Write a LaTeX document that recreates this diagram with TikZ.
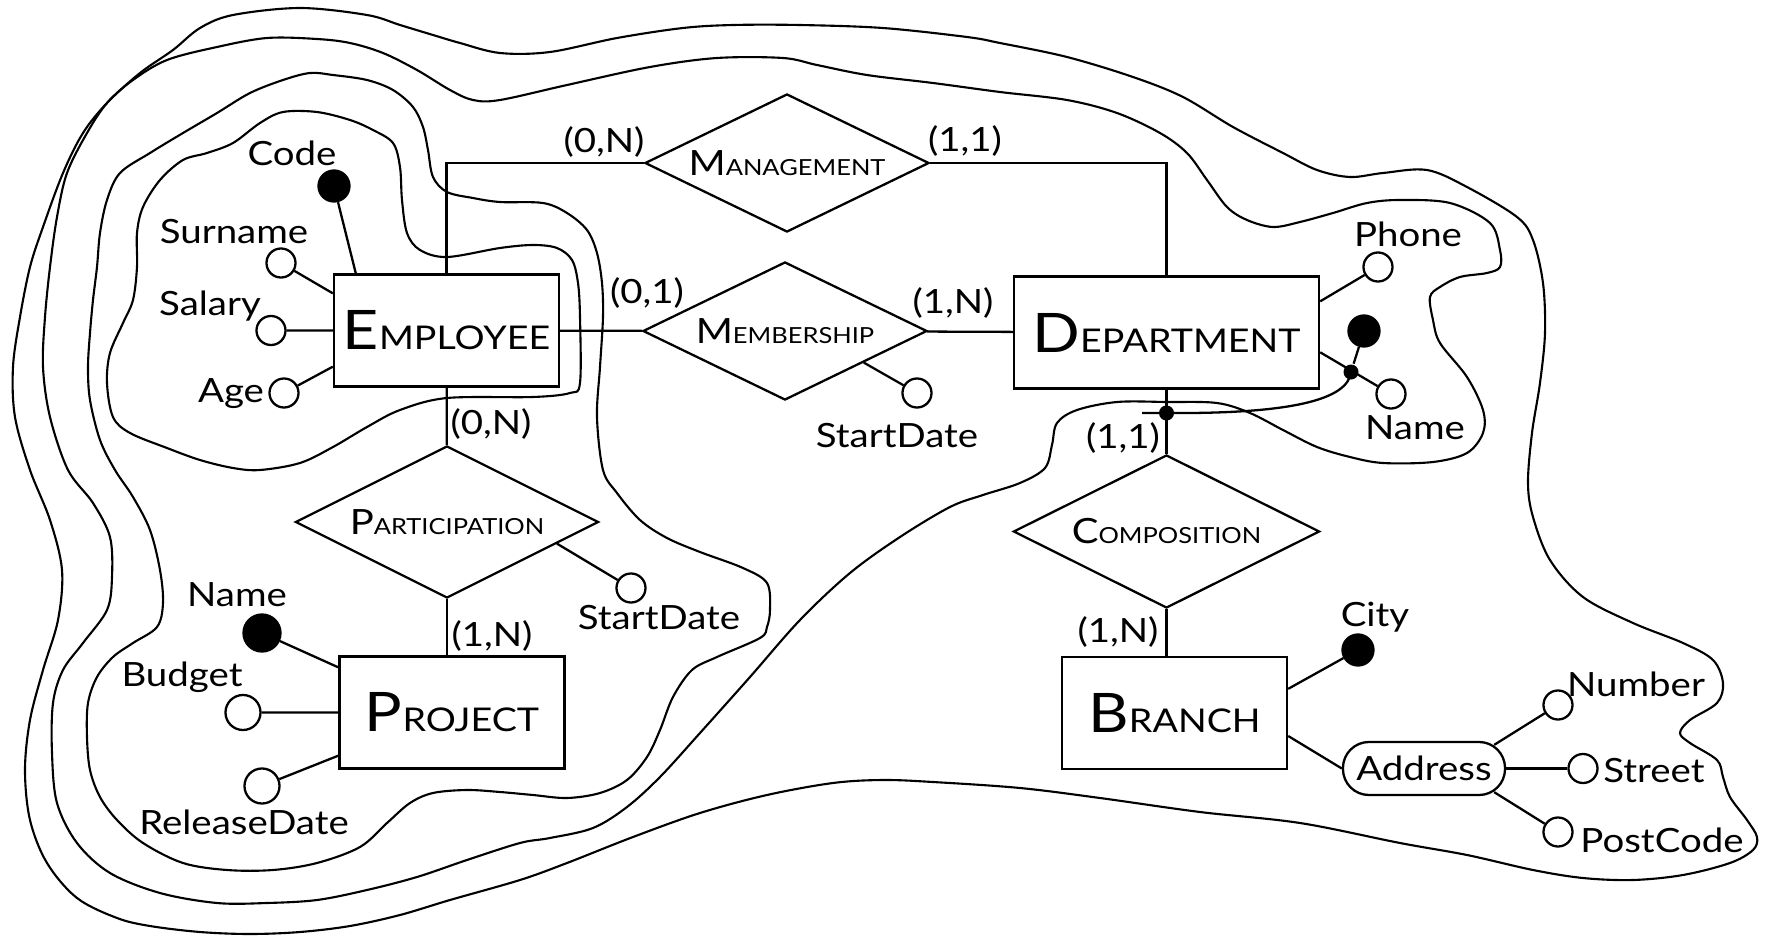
\documentclass[tikz,border=0pt]{standalone}
\usepackage{fontspec}
\setmainfont{Lato}[FakeStretch=1.15]
\usetikzlibrary{shapes.geometric,calc}

\newcommand{\entname}[2]{{\fontsize{15.5}{16}\selectfont #1}{\fontsize{9.3}{10}\selectfont #2}}
\newcommand{\relname}[2]{{\fontsize{9.9}{10}\selectfont #1}{\fontsize{6.3}{7}\selectfont #2}}

\begin{document}
\begin{tikzpicture}[x=0.01cm,y=-0.01cm,line width=0.65pt,
font=\fontsize{9.5}{11}\selectfont]
\tikzstyle{entity}=[draw,rectangle,inner sep=0pt,minimum width=2.25cm,minimum height=1.12cm]
\tikzstyle{relation}=[draw,diamond,aspect=2,inner sep=0pt,minimum width=2.84cm,minimum height=1.38cm]
\tikzstyle{attr}=[draw,circle,fill=white,inner sep=0pt,minimum size=0.29cm]
\tikzstyle{key}=[attr,fill=black,minimum size=0.31cm]
\tikzstyle{dot}=[circle,fill=black,inner sep=0pt,minimum size=0.15cm]
\tikzstyle{lbl}=[inner sep=0pt,anchor=base]
\tikzstyle{card}=[inner sep=0pt]
\tikzstyle{view}=[line width=0.6pt]

\useasboundingbox (0,0) rectangle (1768,939);

\draw[view] plot[smooth cycle,tension=0.55] coordinates {(107,383) (110,353) (123,323) (133,300) (137,267) (137,233) (143,207) (160,180) (183,160) (207,153) (233,143) (260,123) (283,112) (317,112) (350,120) (373,130) (393,143) (400,167) (402,200) (407,233) (420,250) (447,257) (500,248) (533,245) (557,248) (572,260) (578,283) (580,317) (580,383) (570,393) (533,397) (447,398) (400,410) (367,427) (333,447) (300,463) (260,470) (233,468) (200,460) (167,448) (130,433) (113,417)};
\draw[view] plot[smooth cycle,tension=0.55] coordinates {(87,737) (88,703) (97,677) (113,657) (133,643) (157,627) (163,603) (160,570) (150,530) (133,497) (115,470) (100,440) (90,400) (88,367) (90,333) (93,300) (97,267) (100,233) (107,200) (120,173) (150,153) (183,133) (217,113) (250,93) (283,80) (310,73) (333,75) (367,80) (393,90) (413,107) (423,127) (428,150) (433,177) (447,192) (473,198) (500,202) (543,203) (567,213) (587,230) (597,253) (602,283) (603,317) (600,367) (597,417) (603,470) (617,493) (640,520) (667,538) (700,552) (743,568) (767,583) (770,610) (767,627) (760,638) (717,657) (692,670) (673,697) (660,730) (647,757) (627,780) (600,793) (567,798) (533,795) (500,792) (467,790) (433,793) (410,803) (387,823) (360,847) (317,863) (273,870) (227,870) (183,863) (143,843) (117,820) (100,797) (90,770)};
\draw[view] plot[smooth cycle,tension=0.55] coordinates {(52,753) (53,703) (63,670) (83,643) (107,610) (112,577) (110,537) (93,503) (68,470) (50,417) (43,367) (45,317) (50,267) (57,217) (67,173) (87,133) (107,103) (133,80) (167,60) (217,47) (267,38) (317,39) (350,43) (383,53) (417,70) (450,90) (473,100) (500,100) (567,85) (650,67) (717,58) (783,58) (817,65) (867,75) (933,83) (1000,92) (1067,100) (1117,113) (1160,133) (1187,153) (1207,180) (1227,207) (1247,220) (1273,227) (1300,222) (1333,213) (1367,203) (1400,200) (1450,203) (1490,223) (1500,250) (1500,267) (1487,273) (1460,277) (1440,287) (1430,297) (1433,320) (1440,343) (1467,377) (1483,410) (1483,433) (1467,453) (1433,462) (1383,463) (1350,457) (1317,447) (1283,430) (1250,413) (1217,403) (1167,402) (1117,402) (1077,410) (1057,423) (1052,445) (1045,468) (1020,483) (983,495) (950,507) (900,537) (850,573) (800,620) (750,677) (700,733) (660,777) (627,807) (593,828) (550,838) (520,843) (467,860) (417,877) (367,890) (317,900) (267,903) (217,903) (160,893) (110,873) (77,843) (57,803)};
\draw[view] plot[smooth cycle,tension=0.55] coordinates {(25,770) (30,720) (43,670) (58,620) (62,570) (50,520) (30,470) (15,417) (13,367) (20,317) (30,267) (43,227) (63,173) (83,133) (107,103) (140,73) (173,50) (200,28) (233,15) (300,8) (367,15) (400,25) (433,35) (460,43) (500,53) (550,52) (617,38) (683,28) (733,25) (800,25) (883,28) (967,37) (1000,43) (1067,57) (1133,77) (1183,97) (1233,127) (1283,153) (1317,170) (1350,177) (1383,173) (1427,170) (1467,187) (1517,217) (1533,240) (1543,283) (1545,333) (1540,383) (1532,433) (1528,483) (1533,517) (1550,560) (1583,597) (1633,623) (1683,643) (1713,660) (1723,683) (1717,703) (1690,720) (1680,733) (1690,743) (1717,760) (1723,777) (1730,797) (1747,820) (1757,837) (1753,850) (1730,863) (1683,875) (1633,880) (1583,878) (1533,870) (1467,855) (1400,843) (1300,823) (1200,812) (1100,798) (1020,788) (933,782) (883,780) (833,783) (767,795) (700,813) (633,837) (567,863) (520,880) (450,900) (400,915) (350,926) (300,932) (250,934) (200,932) (150,926) (117,918) (77,898) (47,863) (30,820)};

\node[entity] (emp) at (446.5,330.5) {\entname{E}{MPLOYEE}};
\node[entity,minimum width=3.05cm] (dept) at (1166.5,332.5) {\entname{D}{EPARTMENT}};
\node[entity] (proj) at (452,712.5) {\entname{P}{ROJECT}};
\node[entity] (branch) at (1174.5,713) {\entname{B}{RANCH}};

\node[relation] (mgmt) at (787,163) {\relname{M}{ANAGEMENT}};
\node[relation] (memb) at (785,331) {\relname{M}{EMBERSHIP}};
\node[relation,minimum width=3.03cm,minimum height=1.52cm] (part) at (447,522) {\relname{P}{ARTICIPATION}};
\node[relation,minimum width=3.06cm,minimum height=1.53cm] (comp) at (1166.5,531.5) {\relname{C}{OMPOSITION}};

\node[card] (c-em) at (604,142) {(0,N)};
\node[card] (c-dm) at (965,141) {(1,1)};
\node[card] (c-eb) at (647,293) {(0,1)};
\node[card] (c-db) at (953,303) {(1,N)};
\node[card] (c-ep) at (491,424) {(0,N)};
\node[card] (c-pp) at (492,636) {(1,N)};
\node[card] (c-dc) at (1123,438) {(1,1)};
\node[card] (c-bc) at (1118,632) {(1,N)};

\draw (emp.north) |- (mgmt.west);
\draw (mgmt.east) -| (dept.north);
\path (emp) edge (memb)
(memb) edge (dept)
(emp) edge (part)
(dept) edge (comp);
\draw (part.south) -- (part.south |- proj.north);
\draw (comp.south) -- (comp.south |- branch.north);

\node[key] (k-emp) at (334,186) {};
\node[attr] (a-surname) at (281,263) {};
\node[attr] (a-salary) at (271,330.5) {};
\node[attr] (a-age) at (284,393) {};
\node[lbl] (l-code) at (292,165) {Code};
\node[lbl] (l-surname) at (234,243) {Surname};
\node[lbl] (l-salary) at (210,315) {Salary};
\node[lbl] (l-age) at (231,402) {Age};
\draw (k-emp) -- ($(emp.north west)+(23,0)$)
(a-surname) -- ($(emp.north west)+(0,20)$)
(a-salary) -- (emp.west)
(a-age) -- ($(emp.south west)+(0,-21)$);

\node[key,minimum size=0.37cm] (k-proj) at (262,633) {};
\node[attr,minimum size=0.35cm] (a-budget) at (243,712.5) {};
\node[attr,minimum size=0.35cm] (a-release) at (262,786) {};
\node[lbl] (l-pname) at (237,606) {Name};
\node[lbl] (l-budget) at (182,686) {Budget};
\node[lbl] (l-release) at (244,834) {ReleaseDate};
\draw (k-proj) -- ($(proj.north west)+(0,12)$)
(a-budget) -- (proj.west)
(a-release) -- ($(proj.south west)+(0,-14)$);

\node[attr] (a-mstart) at (917,393) {};
\node[lbl] (l-mstart) at (897,447) {StartDate};
\draw ($(memb.east)!0.45!(memb.south)$) -- (a-mstart);
\node[attr] (a-pstart) at (631,588) {};
\node[lbl] (l-pstart) at (659,629) {StartDate};
\draw ($(part.east)!0.28!(part.south)$) -- (a-pstart);

\node[attr] (a-phone) at (1378,267) {};
\node[key] (k-dept) at (1364,331) {};
\node[dot] (d-name) at (1351,372) {};
\node[attr] (a-dname) at (1391,394) {};
\node[lbl] (l-phone) at (1408,246) {Phone};
\node[lbl] (l-dname) at (1415,439) {Name};
\draw (a-phone) -- ($(dept.north east)+(0,26)$);
\draw ($(dept.north east)+(0,77)$) -- (a-dname);
\draw (k-dept) -- (d-name);
\node[dot] (d-comp) at (1166.5,413) {};
\coordinate (extstart) at (1142,413);
\draw (extstart) -- (d-comp.center) .. controls (1290,414) and (1348,400) .. (d-name.center);

\node[key] (k-branch) at (1358,650) {};
\node[lbl] (l-city) at (1375,626) {City};
\node[draw,rounded corners=0.26cm,minimum width=1.62cm,minimum height=0.53cm,inner sep=0pt] (addr) at (1424,768.5) {Address};
\node[attr] (a-number) at (1558,705) {};
\node[attr] (a-street) at (1583,768.5) {};
\node[attr] (a-postcode) at (1558,832) {};
\node[lbl] (l-number) at (1636,696) {Number};
\node[lbl] (l-street) at (1654,782) {Street};
\node[lbl] (l-postcode) at (1662,852) {PostCode};
\draw (k-branch) -- ($(branch.north east)+(0,33)$);
\draw ($(branch.east)+(0,23)$) -- (addr.west);
\draw ($(addr.north east)+(-12,4)$) -- (a-number);
\draw (addr.east) -- (a-street);
\draw ($(addr.south east)+(-12,-4)$) -- (a-postcode);
\end{tikzpicture}
\end{document}
